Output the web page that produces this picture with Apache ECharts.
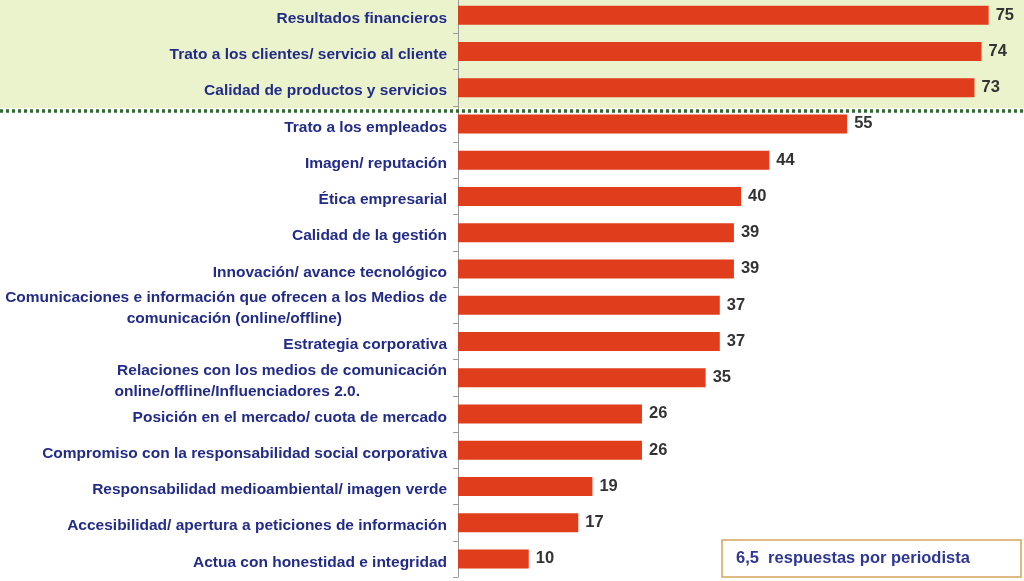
<!DOCTYPE html>
<html><head><meta charset="utf-8">
<script src="https://cdn.jsdelivr.net/npm/echarts@6/dist/echarts.min.js"></script>
<style>html,body{margin:0;padding:0;background:#fff;overflow:hidden}#c{position:absolute;left:0;top:-3px;width:1024px;height:584px}</style>
</head><body><div id="c"></div>
<script>
const categories = [
  'Resultados financieros',
  'Trato a los clientes/ servicio al cliente',
  'Calidad de productos y servicios',
  'Trato a los empleados',
  'Imagen/ reputación',
  'Ética empresarial',
  'Calidad de la gestión',
  'Innovación/ avance tecnológico',
  'Comunicaciones e información que ofrecen a los Medios de\ncomunicación (online/offline)',
  'Estrategia corporativa',
  'Relaciones con los medios de comunicación\nonline/offline/Influenciadores 2.0.',
  'Posición en el mercado/ cuota de mercado',
  'Compromiso con la responsabilidad social corporativa',
  'Responsabilidad medioambiental/ imagen verde',
  'Accesibilidad/ apertura a peticiones de información',
  'Actua con honestidad e integridad'
];
const values = [75, 74, 73, 55, 44, 40, 39, 39, 37, 37, 35, 26, 26, 19, 17, 10];
const noteText = '6,5  respuestas por periodista';

const navy = '#222c86';
const FONT = '"Liberation Sans", Arial, sans-serif';
const FS = 15.5;
const OFF = 3; // container is shifted up by 3px
const chart = echarts.init(document.getElementById('c'));
chart.setOption({
  backgroundColor: '#ffffff',
  animation: false,
  graphic: [
    { type: 'rect', z: -10, shape: { x: 0, y: 0, width: 1024, height: 108 + OFF }, style: { fill: '#ebf3cd' } },
    { type: 'line', z: 10, shape: { x1: 0, y1: 111 + OFF, x2: 1024, y2: 111 + OFF }, style: { stroke: '#2f6a30', lineWidth: 3.5, lineDash: [3, 3] } },
    { type: 'rect', z: 10, shape: { x: 722, y: 540 + OFF, width: 299, height: 37 }, style: { fill: '#fff', stroke: '#d6a457', lineWidth: 1.5 } },
    { type: 'text', z: 11, x: 736, y: 558 + OFF, style: { text: noteText, font: 'bold 16.5px "Liberation Sans", Arial, sans-serif', fill: '#2e3792', textVerticalAlign: 'middle' } }
  ],
  grid: { left: 458, right: 0, top: 0, bottom: 4, containLabel: false, outerBoundsMode: 'none' },
  xAxis: { type: 'value', min: 0, max: 80, show: false },
  yAxis: {
    type: 'category',
    inverse: true,
    data: categories,
    axisLine: { show: true, lineStyle: { color: '#9a9a9a', width: 1 } },
    axisTick: { show: true, length: 5, lineStyle: { color: '#9a9a9a' } },
    axisLabel: {
      margin: 11,
      padding: [7, 0, 0, 0],
      color: navy,
      fontFamily: FONT,
      fontWeight: 'bold',
      fontSize: FS,
      lineHeight: 21,
      formatter: function (v) {
        const parts = v.split('\n');
        if (parts.length === 1) return '{a|' + v + '}';
        const key = parts[0].startsWith('Comunicaciones') ? 'b' : 'c';
        return '{a|' + parts[0] + '}\n{' + key + '|' + parts[1] + '}';
      },
      rich: {
        a: { color: navy, fontWeight: 'bold', fontSize: FS, fontFamily: FONT, lineHeight: 21 },
        b: { color: navy, fontWeight: 'bold', fontSize: FS, fontFamily: FONT, lineHeight: 21, padding: [0, 105, 0, 0] },
        c: { color: navy, fontWeight: 'bold', fontSize: FS, fontFamily: FONT, lineHeight: 21, padding: [0, 87, 0, 0] }
      }
    }
  },
  series: [{
    type: 'bar',
    data: values,
    barWidth: 19,
    itemStyle: { color: '#df3d1b' },
    label: {
      show: true,
      position: 'right',
      distance: 7,
      color: '#333',
      fontWeight: 'bold',
      fontSize: 16.5,
      fontFamily: FONT
    }
  }]
});
</script></body></html>
